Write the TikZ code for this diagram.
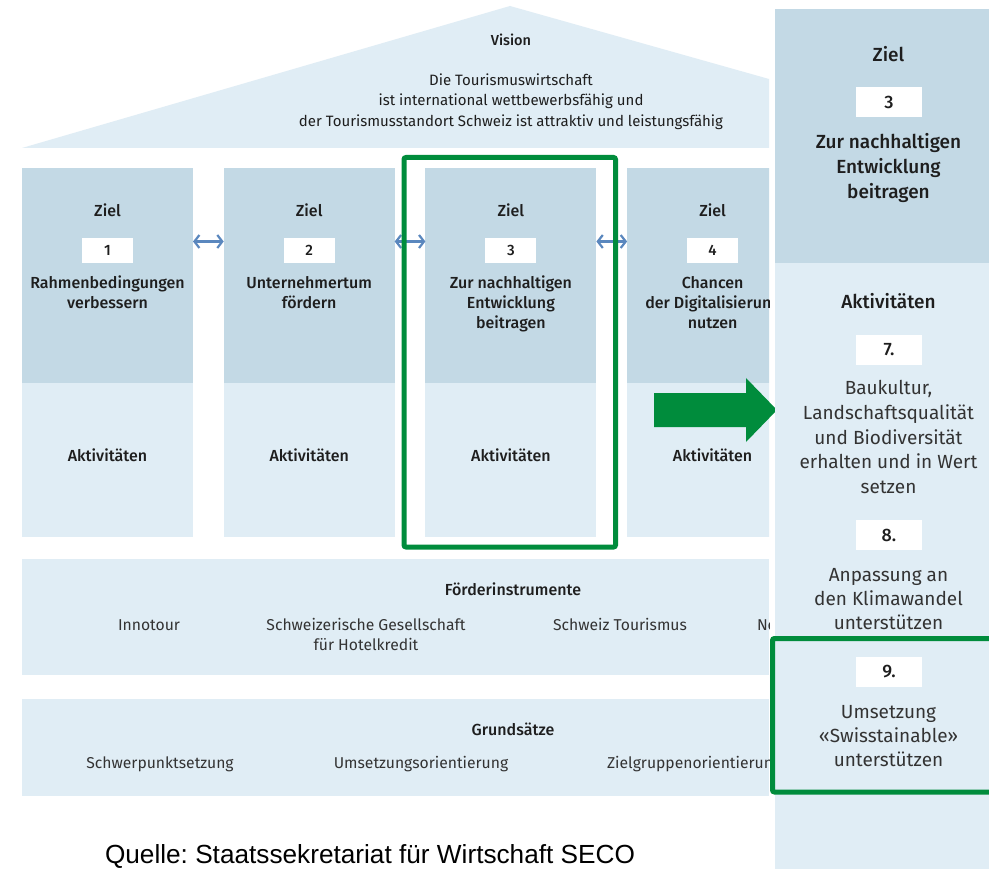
\documentclass[tikz,border=0pt]{standalone}
\usepackage{fontspec}
\setmainfont{Fira Sans}[BoldFont={Fira Sans Medium}]
\newfontfamily\arialfont{Liberation Sans}
\usetikzlibrary{arrows.meta}
\definecolor{darkb}{HTML}{C3D9E5}
\definecolor{lightb}{HTML}{E0EDF5}
\definecolor{grn}{HTML}{008C3C}
\definecolor{arrb}{HTML}{5A87BE}
\definecolor{txt}{HTML}{1E1E1E}
\definecolor{txtg}{HTML}{333333}
\frenchspacing
\begin{document}
\begin{tikzpicture}[x=1pt,y=-1pt,
  every node/.style={inner sep=0pt, outer sep=0pt, text=txt},
  coltop/.style={fill=darkb, minimum width=171pt, minimum height=215pt, anchor=north west},
  colbot/.style={fill=lightb, minimum width=171pt, minimum height=154pt, anchor=north west},
  colhead/.style={font=\bfseries\fontsize{16}{20}\selectfont, anchor=base, align=center},
  numbox/.style={fill=white, minimum width=51pt, minimum height=25pt, font=\bfseries\fontsize{15}{16}\selectfont},
  rnumbox/.style={fill=white, minimum width=66pt, minimum height=30pt, font=\bfseries\fontsize{18}{20}\selectfont},
  rhead/.style={font=\bfseries\fontsize{19}{25}\selectfont, anchor=base, align=center},
  rtext/.style={font=\fontsize{19}{24}\selectfont, anchor=base, align=center, text=txtg},
  visiontext/.style={font=\fontsize{15}{20.5}\selectfont, anchor=base, align=center},
  bandhead/.style={font=\bfseries\fontsize{16}{19}\selectfont, anchor=base},
  banditem/.style={font=\fontsize{15.7}{19.5}\selectfont, anchor=base, align=center, text=txtg},
  band/.style={fill=lightb, minimum width=747pt, anchor=north west},
  linkarrow/.style={draw=arrb, line width=2.2pt, {Straight Barb[length=5pt,width=13pt]}-{Straight Barb[length=5pt,width=13pt]}},
  hlbox/.style={draw=grn, line width=5pt, rounded corners=2pt},
]
\useasboundingbox (0,0) rectangle (989,869);
\fill[white] (0,0) rectangle (989,869);

% left part, clipped at the right panel
\begin{scope}
\clip (0,0) rectangle (769,869);
% roof
\fill[lightb] (22,148) -- (510,6) -- (769,79) -- (769,148) -- cycle;
\node[colhead, font=\bfseries\fontsize{14.5}{18}\selectfont] (vision) at (511,46) {Vision};
\node[visiontext] (visiontxt) at (511,126.2) {Die Tourismuswirtschaft\\ist international wettbewerbsfähig und\\der Tourismusstandort Schweiz ist attraktiv und leistungsfähig};
% pillars
\foreach \i/\num/\lastbase/\title in {1/1/308.6/{Rahmenbedingungen\\verbessern},2/2/308.6/{Unternehmertum\\fördern},3/3/328.6/{Zur nachhaltigen\\Entwicklung\\beitragen},4/4/328.6/{Chancen\\der Digitalisierung\\nutzen}}{
  \pgfmathsetmacro\xx{22+(\i-1)*201.7}
  \node[coltop] (top\i) at (\xx,168) {};
  \node[colbot] (bot\i) at (\xx,383) {};
  \node[colhead] (ziel\i) at (\xx+85.5,216.6) {Ziel};
  \node[numbox] (num\i) at (\xx+85.5,250.5) {\num};
  \node[colhead] (title\i) at (\xx+85.5,\lastbase) {\title};
  \node[colhead] (akt\i) at (\xx+85.5,461.6) {Aktivitäten};
}
% bands
\node[band, minimum height=116pt] (foerder) at (22,559) {};
\node[bandhead] (foerderhead) at (513,595.6) {Förderinstrumente};
\node[banditem] (innotour) at (149,630.6) {Innotour};
\node[banditem] (sgh) at (366,650.1) {Schweizerische Gesellschaft\\für Hotelkredit};
\node[banditem] (stour) at (620,630.6) {Schweiz Tourismus};
\node[banditem, anchor=base west] (nrp) at (757,630.6) {Neue Regionalpolitik};
\node[band, minimum height=97pt] (grund) at (22,699) {};
\node[bandhead] (grundhead) at (513,735.6) {Grundsätze};
\node[banditem] (schwer) at (160,768.6) {Schwerpunktsetzung};
\node[banditem] (umsetz) at (421,768.6) {Umsetzungsorientierung};
\node[banditem, anchor=base west] (zielgr) at (607,768.6) {Zielgruppenorientierung};
\end{scope}

% links between goals
\foreach \a/\b in {1/2,2/3,3/4}{
  \draw[linkarrow] ([yshift=-73.5pt]top\a.north east) -- ([yshift=-73.5pt]top\b.north west);
}

% highlight of goal 3
\draw[hlbox] (404,157.5) rectangle (615.5,547);

% big arrow
\fill[grn] (654,393) -- (746,393) -- (746,378) -- (777,410) -- (746,442) -- (746,427) -- (654,427) -- cycle;

% right panel
\node[fill=darkb, minimum width=226pt, minimum height=254pt, anchor=north west] (rtop) at (775,9) {};
\node[fill=lightb, minimum width=226pt, minimum height=620pt, anchor=north west] (rbot) at (775,263) {};
\node[rhead] (rziel) at (888.5,61.6) {Ziel};
\node[rnumbox] (rnum3) at (889,102.5) {3};
\node[rhead] (rtitle) at (888.5,198.6) {Zur nachhaltigen\\Entwicklung\\beitragen};
\node[rhead] (rakt) at (888.5,308.6) {Aktivitäten};
\node[rnumbox] (rnum7) at (889,350) {7.};
\node[rtext, font=\fontsize{19}{24.75}\selectfont] (r7) at (888.5,493.6) {Baukultur,\\Landschaftsqualität\\und Biodiversität\\erhalten und in Wert\\setzen};
\node[rnumbox] (rnum8) at (889,535) {8.};
\node[rtext] (r8) at (888.5,629.6) {Anpassung an\\den Klimawandel\\unterstützen};
\node[rnumbox] (rnum9) at (889,672) {9.};
\node[rtext] (r9) at (888.5,766.6) {Umsetzung\\«Swisstainable»\\unterstützen};
\draw[hlbox] (772.5,638.5) rectangle (1000,792);

% source
\node[anchor=base west, font=\arialfont\fontsize{26.2}{30}\selectfont, text=black] (quelle) at (105,863) {Quelle: Staatssekretariat für Wirtschaft SECO};
\end{tikzpicture}
\end{document}
